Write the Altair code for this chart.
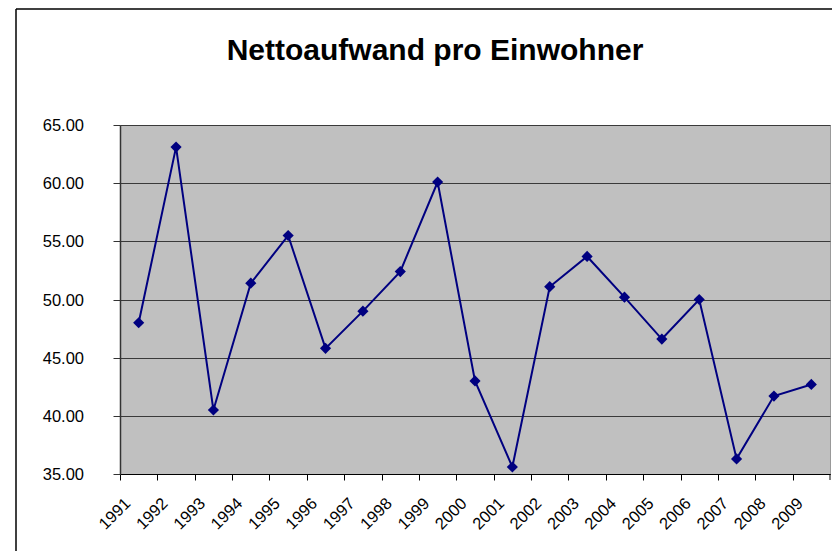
import altair as alt
import pandas as pd

title_text = "Nettoaufwand pro Einwohner"
years = [str(y) for y in range(1991, 2010)]
values = [48.0, 63.1, 40.5, 51.4, 55.5, 45.8, 49.0, 52.4, 60.1, 43.0,
          35.6, 51.1, 53.7, 50.2, 46.6, 50.0, 36.3, 41.7, 42.7]
y_ticks = [35, 40, 45, 50, 55, 60, 65]
y_tick_labels = ["35.00", "40.00", "45.00", "50.00", "55.00", "60.00", "65.00"]

W, H = 710, 349
step = W / len(years)
FONT = "Liberation Sans"

df = pd.DataFrame({"Jahr": years, "Wert": values})
ytdf = pd.DataFrame({"Wert": y_ticks, "lab": y_tick_labels})

x_scale = alt.Scale(type="point", padding=0.5, domain=years)
y_scale = alt.Scale(domain=[35, 65], nice=False, zero=False)

x_enc = alt.X(
    "Jahr:O",
    sort=years,
    scale=x_scale,
    axis=alt.Axis(
        title=None,
        labels=False,
        tickOffset=-step / 2,
        tickSize=6,
        tickColor="black",
        domainColor="black",
        domainWidth=1,
        grid=False,
    ),
)
y_enc = alt.Y(
    "Wert:Q",
    scale=y_scale,
    axis=alt.Axis(
        title=None,
        values=y_ticks,
        labels=False,
        tickSize=7,
        tickColor="#333333",
        domainColor="#333333",
        domainWidth=1.5,
        grid=True,
        gridColor="#3a3a3a",
        gridWidth=1,
    ),
)

base = alt.Chart(df).encode(x=x_enc, y=y_enc)
line = base.mark_line(color="#000080", strokeWidth=2)
pts = base.mark_point(shape="diamond", filled=True, size=125, color="#000080", opacity=1)

x_labels = alt.Chart(df).mark_text(
    font=FONT, fontSize=16.5, color="black", angle=315,
    align="right", baseline="middle", dx=-7.6, dy=-7.6
).encode(x=alt.X("Jahr:O", sort=years), y=alt.value(H + 27), text="Jahr:N")

y_labels = alt.Chart(ytdf).mark_text(
    font=FONT, fontSize=16.5, color="black", align="right", baseline="middle", dy=1
).encode(y=alt.Y("Wert:Q"), x=alt.value(-36), text="lab:N")

one = pd.DataFrame({"k": [0]})
title_mark = alt.Chart(pd.DataFrame({"t": [title_text]})).mark_text(
    font=FONT, fontSize=30, fontWeight="bold", align="center",
    baseline="alphabetic", color="black"
).encode(text="t:N", x=alt.value(315), y=alt.value(-65))

border_left = alt.Chart(one).mark_rule(color="black", strokeWidth=1.5).encode(
    x=alt.value(-104), y=alt.value(-116), y2=alt.value(H + 80)
)
border_top = alt.Chart(one).mark_rule(color="black", strokeWidth=1.5).encode(
    x=alt.value(-104), x2=alt.value(W + 10), y=alt.value(-116)
)
end_tick = alt.Chart(one).mark_rule(color="black", strokeWidth=1).encode(
    x=alt.value(W), y=alt.value(H), y2=alt.value(H + 6)
)

chart = alt.layer(
    line, pts, x_labels, y_labels, title_mark, border_left, border_top, end_tick
).properties(
    width=W,
    height=H,
    autosize=alt.AutoSizeParams(type="none"),
    padding={"left": 112, "top": 117, "right": 2, "bottom": 77},
    background="white",
).configure_view(
    fill="#C0C0C0", stroke="#999999", strokeWidth=1
)

chart.save("out.html", embed_options={"renderer": "svg", "actions": False})
